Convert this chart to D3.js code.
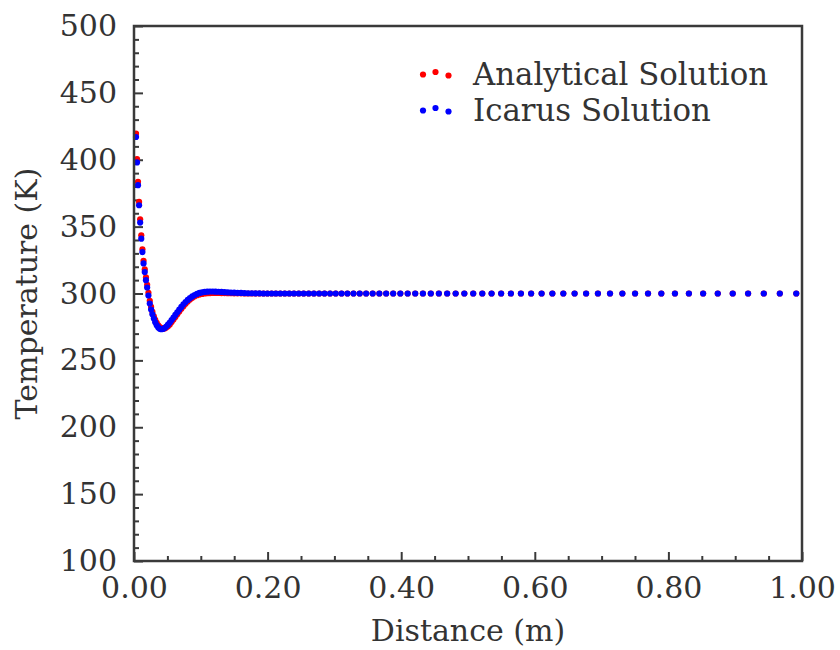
<!DOCTYPE html>
<html>
<head>
<meta charset="utf-8">
<script src="https://cdn.jsdelivr.net/npm/d3@7"></script>
<style>
  html, body { margin: 0; padding: 0; background: #ffffff; }
  svg { display: block; }
  text { font-family: "DejaVu Serif", serif; fill: #333333; }
</style>
</head>
<body>
<svg id="chart" width="840" height="650"></svg>
<script>
// Grid positions along the rod (m)
const distance = [
  0.0030, 0.0045, 0.0060, 0.0076, 0.0092, 0.0109, 0.0126, 0.0143, 0.0161, 0.0179,
  0.0197, 0.0216, 0.0236, 0.0256, 0.0276, 0.0297, 0.0318, 0.0340, 0.0363, 0.0386,
  0.0409, 0.0433, 0.0458, 0.0483, 0.0509, 0.0536, 0.0563, 0.0591, 0.0619, 0.0648,
  0.0678, 0.0709, 0.0740, 0.0772, 0.0805, 0.0838, 0.0873, 0.0908, 0.0944, 0.0981,
  0.1019, 0.1058, 0.1097, 0.1138, 0.1180, 0.1222, 0.1266, 0.1310, 0.1356, 0.1403,
  0.1451, 0.1500, 0.1550, 0.1602, 0.1654, 0.1708, 0.1764, 0.1820, 0.1878, 0.1938,
  0.1998, 0.2061, 0.2124, 0.2190, 0.2257, 0.2325, 0.2395, 0.2467, 0.2540, 0.2616,
  0.2693, 0.2772, 0.2852, 0.2935, 0.3020, 0.3107, 0.3195, 0.3286, 0.3379, 0.3475,
  0.3573, 0.3673, 0.3775, 0.3880, 0.3987, 0.4097, 0.4210, 0.4325, 0.4443, 0.4564,
  0.4688, 0.4815, 0.4945, 0.5078, 0.5214, 0.5353, 0.5496, 0.5642, 0.5792, 0.5945,
  0.6102, 0.6263, 0.6427, 0.6596, 0.6768, 0.6945, 0.7126, 0.7311, 0.7501, 0.7695,
  0.7894, 0.8098, 0.8307, 0.8520, 0.8739, 0.8963, 0.9193, 0.9428, 0.9668, 0.9914
];

// Analytical temperature profile (K)
const analytical = [
  419.5, 400.5, 383.5, 368.5, 355.5, 343.5, 333.0, 324.5, 318.0, 312.0,
  306.5, 300.5, 294.5, 290.0, 286.2, 283.0, 280.3, 278.0, 276.2, 274.9,
  274.1, 273.8, 273.9, 274.5, 275.5, 276.9, 278.6, 280.5, 282.5, 284.5,
  286.6, 288.6, 290.5, 292.3, 294.0, 295.5, 296.8, 297.9, 298.7, 299.3,
  299.7, 300.0, 300.2, 300.3, 300.4, 300.4, 300.4, 300.3, 300.3, 300.2,
  300.2, 300.1, 300.1, 300.1, 300.0, 300.0, 300.0, 300.0, 300.0, 300.0,
  300.0, 300.0, 300.0, 300.0, 300.0, 300.0, 300.0, 300.0, 300.0, 300.0,
  300.0, 300.0, 300.0, 300.0, 300.0, 300.0, 300.0, 300.0, 300.0, 300.0,
  300.0, 300.0, 300.0, 300.0, 300.0, 300.0, 300.0, 300.0, 300.0, 300.0,
  300.0, 300.0, 300.0, 300.0, 300.0, 300.0, 300.0, 300.0, 300.0, 300.0,
  300.0, 300.0, 300.0, 300.0, 300.0, 300.0, 300.0, 300.0, 300.0, 300.0,
  300.0, 300.0, 300.0, 300.0, 300.0, 300.0, 300.0, 300.0, 300.0, 300.0
];

// Icarus solver temperature profile (K)
const icarus = [
  417.0, 398.0, 381.0, 366.0, 353.0, 341.0, 331.0, 322.5, 316.0, 310.0,
  304.5, 298.5, 292.5, 288.0, 284.5, 281.3, 278.5, 276.2, 274.6, 273.6,
  273.3, 273.5, 274.2, 275.3, 276.7, 278.3, 280.1, 282.0, 284.0, 286.0,
  288.0, 290.0, 291.9, 293.6, 295.2, 296.6, 297.8, 298.8, 299.7, 300.4,
  300.9, 301.2, 301.4, 301.5, 301.5, 301.4, 301.3, 301.2, 301.0, 300.9,
  300.7, 300.6, 300.5, 300.4, 300.3, 300.2, 300.2, 300.1, 300.1, 300.0,
  300.0, 300.0, 300.0, 300.0, 300.0, 300.0, 300.0, 300.0, 300.0, 300.0,
  300.0, 300.0, 300.0, 300.0, 300.0, 300.0, 300.0, 300.0, 300.0, 300.0,
  300.0, 300.0, 300.0, 300.0, 300.0, 300.0, 300.0, 300.0, 300.0, 300.0,
  300.0, 300.0, 300.0, 300.0, 300.0, 300.0, 300.0, 300.0, 300.0, 300.0,
  300.0, 300.0, 300.0, 300.0, 300.0, 300.0, 300.0, 300.0, 300.0, 300.0,
  300.0, 300.0, 300.0, 300.0, 300.0, 300.0, 300.0, 300.0, 300.0, 300.0
];

const xMajorTicks = [0.0, 0.2, 0.4, 0.6, 0.8, 1.0];
const yMajorTicks = [100, 150, 200, 250, 300, 350, 400, 450, 500];
const seriesNames = ["Analytical Solution", "Icarus Solution"];
const seriesColors = ["#ff0000", "#0000ff"];

const margin = { left: 134, right: 38, top: 26, bottom: 89 };
const W = 840, H = 650;
const svg = d3.select("#chart");

const x = d3.scaleLinear().domain([0, 1]).range([margin.left, W - margin.right]);
const y = d3.scaleLinear().domain([100, 500]).range([H - margin.bottom, margin.top]);

const fontSize = 30;
const axisColor = "#3a3a3a";
const dotRadius = 3.1;

// minor ticks
const xMinor = d3.range(0, 1.0001, 0.05).filter(v => !xMajorTicks.some(m => Math.abs(m - v) < 1e-9));
const yMinor = d3.range(100, 500.001, 10).filter(v => v % 50 !== 0);

svg.append("g")
  .attr("transform", `translate(0,${y(100)})`)
  .call(d3.axisBottom(x).tickValues(xMinor).tickSizeInner(-5).tickSizeOuter(0).tickFormat(""))
  .call(g => g.select(".domain").remove())
  .call(g => g.selectAll("line").attr("stroke", axisColor).attr("stroke-width", 2));

svg.append("g")
  .attr("transform", `translate(${x(0)},0)`)
  .call(d3.axisLeft(y).tickValues(yMinor).tickSizeInner(-5).tickSizeOuter(0).tickFormat(""))
  .call(g => g.select(".domain").remove())
  .call(g => g.selectAll("line").attr("stroke", axisColor).attr("stroke-width", 2));

// major ticks with labels
svg.append("g")
  .attr("transform", `translate(0,${y(100)})`)
  .call(d3.axisBottom(x).tickValues(xMajorTicks).tickSizeInner(-9).tickSizeOuter(0)
    .tickPadding(16).tickFormat(d3.format(".2f")))
  .call(g => g.select(".domain").remove())
  .call(g => g.selectAll("line").attr("stroke", axisColor).attr("stroke-width", 2))
  .call(g => g.selectAll("text").attr("font-family", "DejaVu Serif").attr("font-size", fontSize).attr("fill", "#333"));

svg.append("g")
  .attr("transform", `translate(${x(0)},0)`)
  .call(d3.axisLeft(y).tickValues(yMajorTicks).tickSizeInner(-9).tickSizeOuter(0)
    .tickPadding(17).tickFormat(d3.format("d")))
  .call(g => g.select(".domain").remove())
  .call(g => g.selectAll("line").attr("stroke", axisColor).attr("stroke-width", 2))
  .call(g => g.selectAll("text").attr("font-family", "DejaVu Serif").attr("font-size", fontSize).attr("fill", "#333"));

// data points: analytical underneath, solver on top
const seriesData = [analytical, icarus];
seriesData.forEach((vals, k) => {
  svg.append("g")
    .selectAll("circle")
    .data(distance.map((d, i) => [d, vals[i]]))
    .join("circle")
    .attr("cx", d => x(d[0]))
    .attr("cy", d => y(d[1]))
    .attr("r", dotRadius)
    .attr("fill", seriesColors[k]);
});

// plot frame
svg.append("rect")
  .attr("x", x(0)).attr("y", y(500))
  .attr("width", x(1) - x(0)).attr("height", y(100) - y(500))
  .attr("fill", "none").attr("stroke", axisColor).attr("stroke-width", 2.5);

// axis titles
svg.append("text")
  .attr("x", (x(0) + x(1)) / 2).attr("y", 641)
  .attr("text-anchor", "middle").attr("font-size", fontSize)
  .text("Distance (m)");

svg.append("text")
  .attr("transform", `translate(37,${(y(100) + y(500)) / 2}) rotate(-90)`)
  .attr("text-anchor", "middle").attr("font-size", fontSize)
  .text("Temperature (K)");

// legend with three scatter markers per entry
const legendOffsets = [[0, 0.5], [12.5, -2], [25.5, 1.5]];
const legend = svg.append("g").attr("transform", "translate(423,74)");
seriesNames.forEach((name, k) => {
  const row = legend.append("g").attr("transform", `translate(0,${k * 36})`);
  row.selectAll("circle")
    .data(legendOffsets)
    .join("circle")
    .attr("cx", d => d[0]).attr("cy", d => d[1])
    .attr("r", dotRadius).attr("fill", seriesColors[k]);
  row.append("text")
    .attr("x", 50).attr("y", 11)
    .attr("font-size", 30.8)
    .text(name);
});
</script>
</body>
</html>
